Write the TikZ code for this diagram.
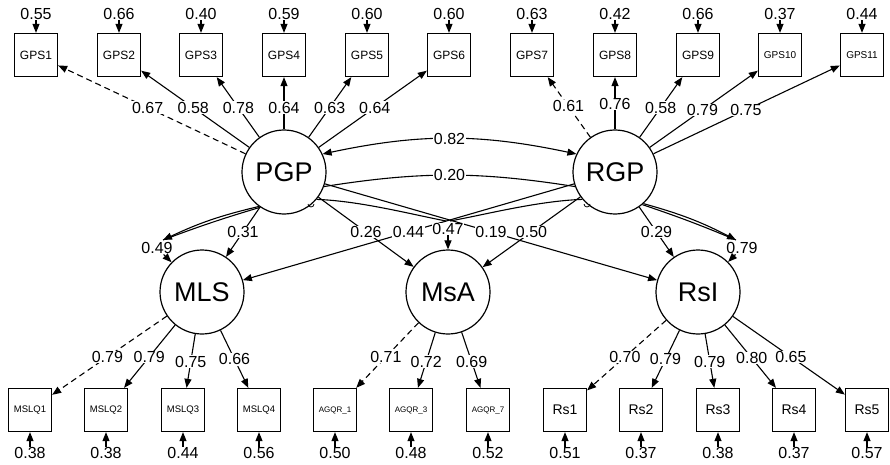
\documentclass[tikz,border=0pt]{standalone}
\usepackage{fontspec}
\setmainfont{Liberation Sans}
\usetikzlibrary{arrows.meta,calc}
\begin{document}
\begin{tikzpicture}[x=1pt,y=1pt,
  ind/.style={draw, line width=1.3pt, minimum size=43pt, inner sep=0pt},
  lat/.style={draw, circle, line width=1.2pt, minimum size=84pt, inner sep=0pt, font=\fontsize{27}{27}\selectfont},
  lab/.style={fill=white, inner sep=0.6pt, font=\fontsize{16}{16}\selectfont},
  var/.style={inner sep=0.5pt, font=\fontsize{16}{16}\selectfont},
  arr/.style={line width=1.1pt, -{Triangle[length=9pt,width=7pt]}},
  darr/.style={arr, dash pattern=on 6pt off 4pt},
  cov/.style={line width=1.1pt, {Triangle[length=9pt,width=7pt]}-{Triangle[length=9pt,width=7pt]}},
  plain/.style={line width=1.1pt}
]
\useasboundingbox (0,0) rectangle (890,464);

% latent variables
\node[lat] (PGP) at (284,292) {PGP};
\node[lat] (RGP) at (615,292) {RGP};
\node[lat] (MLS) at (202,172) {MLS};
\node[lat] (MsA) at (448,172) {MsA};
\node[lat] (Rsl) at (698,172) {RsI};

% top indicators with residual variances
\foreach \n/\x/\val/\fs in {GPS1/36/0.55/12, GPS2/119/0.66/12, GPS3/201/0.40/12, GPS4/284/0.59/12, GPS5/367/0.60/12, GPS6/449/0.60/12, GPS7/532/0.63/12, GPS8/615/0.42/12, GPS9/698/0.66/12, GPS10/780/0.37/10, GPS11/862/0.44/10}{
  \node[ind, font=\fontsize{\fs}{\fs}\selectfont] (\n) at (\x,409) {\n};
  \node[var] (v\n) at (\x,450) {\val};
  \draw[arr] (v\n) -- (\n);
}

% bottom indicators with residual variances
\foreach \n/\t/\x/\val/\fs in {M1/MSLQ1/30/0.38/9.5, M2/MSLQ2/106/0.38/9.5, M3/MSLQ3/183/0.44/9.5, M4/MSLQ4/259/0.56/9.5, A1/AGQR\_1/335/0.50/8, A3/AGQR\_3/411/0.48/8, A7/AGQR\_7/488/0.52/8, R1/Rs1/565/0.51/14, R2/Rs2/641/0.37/14, R3/Rs3/718/0.38/14, R4/Rs4/794/0.37/14, R5/Rs5/867/0.57/14}{
  \node[ind, font=\fontsize{\fs}{\fs}\selectfont] (\n) at (\x,54) {\t};
  \node[var] (v\n) at (\x,11) {\val};
  \draw[arr] (v\n) -- (\n);
}

% loadings
\def\loadings{PGP/GPS1/0.67/0.55/darr, PGP/GPS2/0.58/0.55/arr, PGP/GPS3/0.78/0.55/arr, PGP/GPS4/0.64/0.55/arr, PGP/GPS5/0.63/0.55/arr, PGP/GPS6/0.64/0.55/arr,
  RGP/GPS7/0.61/0.56/darr, RGP/GPS8/0.76/0.58/arr, RGP/GPS9/0.58/0.55/arr, RGP/GPS10/0.79/0.53/arr, RGP/GPS11/0.75/0.53/arr,
  MLS/M1/0.79/0.55/darr, MLS/M2/0.79/0.55/arr, MLS/M3/0.75/0.59/arr, MLS/M4/0.66/0.57/arr,
  MsA/A1/0.71/0.55/darr, MsA/A3/0.72/0.59/arr, MsA/A7/0.69/0.59/arr,
  Rsl/R1/0.70/0.55/darr, Rsl/R2/0.79/0.57/arr, Rsl/R3/0.79/0.59/arr, Rsl/R4/0.80/0.56/arr, Rsl/R5/0.65/0.55/arr}
\foreach \a/\b/\val/\t/\sty in \loadings { \draw[\sty] (\a) -- (\b); }
\foreach \a/\b/\val/\t/\sty in \loadings { \node[lab] at ($(\a)!\t!(\b)$) {\val}; }

% covariances between exogenous latents
\draw[cov] (PGP.25) to[bend left=12] node[lab] {0.82} (RGP.155);
\draw[plain] (PGP.-20) to[bend left=9] node[lab] {0.20} (RGP.200);

% residual-type curves
\coordinate (c49) at (163,224);
\draw[arr] (PGP.234) to[bend right=6] (c49);
\draw[plain] (PGP.236) to[bend right=2] (c49);
\node[lab] (l49) at (157,216) {0.49};
\draw[arr] (l49) -- (MLS);

\coordinate (c79) at (736,224);
\draw[arr] (RGP.-48) to[bend left=6] (c79);
\draw[plain] (RGP.-50) to[bend left=2] (c79);

\coordinate (c47a) at (446,243);
\coordinate (c47b) at (450,243);
\draw[plain] (PGP.-40) .. controls (360,263) and (410,250) .. (c47a);
\draw[plain] (RGP.220) .. controls (538,263) and (488,250) .. (c47b);

% small marks
\draw[line width=0.8pt] (308,260) arc[start angle=180, end angle=360, radius=3];
\draw[line width=0.8pt] (584,260) arc[start angle=180, end angle=360, radius=3];

% structural paths
\draw[arr] (PGP) -- (MLS);
\draw[arr] (PGP) -- (MsA);
\draw[arr] (PGP) -- (Rsl);
\draw[arr] (RGP) -- (MLS);
\draw[arr] (RGP) -- (MsA);
\draw[arr] (RGP) -- (Rsl);
\node[lab] at ($(PGP)!0.5!(MLS)$) {0.31};
\node[lab] at ($(PGP)!0.5!(MsA)$) {0.26};
\node[lab] at ($(PGP)!0.5!(Rsl)$) {0.19};
\node[lab] at ($(RGP)!0.5!(MLS)$) {0.44};
\node[lab] at ($(RGP)!0.5!(MsA)$) {0.50};
\node[lab] at ($(RGP)!0.5!(Rsl)$) {0.29};

\node[lab] (l47) at (448,235) {0.47};
\draw[arr] (l47) -- (MsA);
\node[lab] (l79) at (742,216) {0.79};
\draw[arr] (l79) -- (Rsl);
\end{tikzpicture}
\end{document}
